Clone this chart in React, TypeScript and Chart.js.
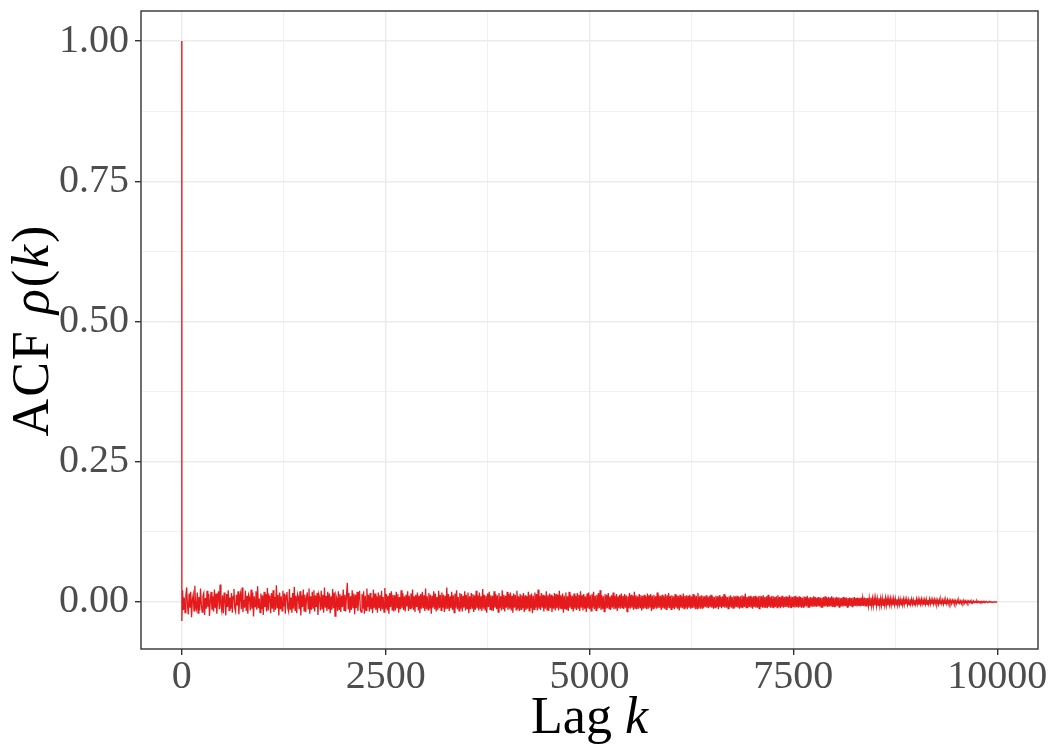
import { useEffect, useRef } from "react";
import { Chart, registerables } from "chart.js";

Chart.register(...registerables);

// Sample autocorrelation of the chain: lag 0 and lag 1, then every LAG_STEP lags up to 10000.
const LAG_STEP = 10;
const headLags = [0, 1];
const headAcf = [1.0, -0.034];
const acfBand = [
  0.021, -0.014, 0.008, -0.019, 0.012, 0.026, -0.006, -0.022, 0.015, -0.010, 0.018, -0.027, 0.004, 0.013, -0.016, 0.029, -0.008, -0.013, 0.017, -0.020,
  0.009, -0.015, 0.024, -0.004, -0.018, 0.011, 0.016, -0.023, 0.007, -0.012, 0.020, -0.009, 0.014, -0.025, 0.003, 0.018, -0.014, 0.010, -0.017, 0.022,
  -0.011, 0.015, -0.021, 0.006, 0.019, -0.013, 0.031, -0.007, -0.016, 0.012, -0.020, 0.017, 0.005, -0.024, 0.014, -0.009, 0.021, -0.015, 0.008, -0.012,
  0.016, -0.019, 0.010, 0.023, -0.011, -0.017, 0.013, -0.006, 0.019, -0.022, 0.007, 0.015, -0.013, 0.026, -0.018, 0.004, -0.010, 0.020, -0.016, 0.011,
  -0.021, 0.013, 0.008, -0.015, 0.022, -0.012, 0.017, -0.026, 0.010, -0.008, 0.019, -0.014, 0.028, -0.011, 0.006, -0.019, 0.015, -0.013, 0.012, -0.023,
  0.018, -0.009, 0.014, -0.017, 0.025, -0.015, 0.011, 0.007, -0.020, 0.016, -0.012, 0.021, -0.018, 0.009, -0.014, 0.030, -0.010, 0.013, -0.024, 0.017,
  -0.013, 0.010, -0.016, 0.020, -0.008, 0.015, -0.021, 0.012, 0.018, -0.011, -0.017, 0.023, -0.014, 0.008, -0.019, 0.016, -0.012, 0.027, -0.015, 0.011,
  -0.020, 0.014, 0.009, -0.013, 0.019, -0.024, 0.012, -0.009, 0.022, -0.016, 0.013, -0.018, 0.007, 0.017, -0.012, 0.024, -0.021, 0.010, -0.014, 0.018,
  -0.011, 0.021, -0.017, 0.012, -0.009, 0.016, -0.023, 0.014, 0.008, -0.015, 0.020, -0.012, 0.013, -0.019, 0.026, -0.010, 0.011, -0.016, 0.018, -0.013,
  0.015, -0.020, 0.010, -0.014, 0.023, -0.011, 0.017, -0.025, 0.012, 0.006, -0.016, 0.019, -0.013, 0.014, -0.018, 0.011, -0.009, 0.022, -0.015, 0.013,
  -0.017, 0.012, 0.034, -0.012, 0.016, -0.019, 0.010, -0.014, 0.021, -0.010, 0.015, -0.022, 0.013, -0.011, 0.018, -0.016, 0.009, 0.020, -0.013, -0.018,
  0.014, -0.012, 0.019, -0.021, 0.011, -0.015, 0.024, -0.009, 0.013, -0.017, 0.016, -0.013, 0.008, -0.020, 0.022, -0.011, 0.015, -0.014, 0.010, -0.019,
  0.017, -0.010, 0.012, -0.016, 0.020, -0.013, 0.009, -0.018, 0.025, -0.012, 0.014, -0.015, 0.011, -0.021, 0.016, -0.009, 0.019, -0.014, 0.013, -0.017,
  0.012, -0.015, 0.018, -0.010, 0.014, -0.019, 0.009, -0.013, 0.021, -0.011, 0.016, -0.014, 0.010, -0.017, 0.013, -0.008, 0.019, -0.016, 0.011, -0.012,
  0.015, -0.011, 0.022, -0.014, 0.010, -0.018, 0.013, -0.009, 0.017, -0.015, 0.011, -0.020, 0.014, -0.012, 0.018, -0.010, 0.012, -0.016, 0.024, -0.013,
  0.010, -0.014, 0.016, -0.012, 0.013, -0.021, 0.011, -0.010, 0.019, -0.013, 0.015, -0.017, 0.009, -0.014, 0.020, -0.011, 0.013, -0.015, 0.017, -0.010,
  0.013, -0.018, 0.011, -0.013, 0.026, -0.012, 0.014, -0.016, 0.010, -0.011, 0.018, -0.014, 0.012, -0.019, 0.015, -0.010, 0.021, -0.013, 0.009, -0.016,
  0.016, -0.012, 0.014, -0.017, 0.011, -0.010, 0.019, -0.015, 0.013, -0.012, 0.017, -0.020, 0.010, -0.013, 0.016, -0.011, 0.014, -0.018, 0.012, -0.014,
  0.020, -0.011, 0.012, -0.015, 0.017, -0.013, 0.010, -0.016, 0.023, -0.012, 0.013, -0.014, 0.011, -0.019, 0.015, -0.009, 0.018, -0.013, 0.012, -0.015,
  0.011, -0.016, 0.019, -0.010, 0.014, -0.013, 0.012, -0.018, 0.016, -0.011, 0.010, -0.015, 0.021, -0.012, 0.013, -0.017, 0.011, -0.010, 0.018, -0.014,
  0.014, -0.012, 0.017, -0.015, 0.011, -0.019, 0.015, -0.010, 0.013, -0.014, 0.020, -0.012, 0.010, -0.016, 0.014, -0.013, 0.012, -0.011, 0.016, -0.018,
  0.012, -0.014, 0.010, -0.012, 0.018, -0.016, 0.013, -0.011, 0.015, -0.020, 0.011, -0.013, 0.017, -0.010, 0.014, -0.015, 0.022, -0.012, 0.011, -0.014,
  0.016, -0.010, 0.013, -0.017, 0.011, -0.012, 0.019, -0.014, 0.012, -0.016, 0.015, -0.011, 0.013, -0.018, 0.010, -0.012, 0.016, -0.015, 0.014, -0.011,
  0.013, -0.015, 0.020, -0.011, 0.012, -0.013, 0.015, -0.019, 0.011, -0.012, 0.017, -0.014, 0.010, -0.016, 0.018, -0.010, 0.013, -0.013, 0.011, -0.017,
  0.015, -0.012, 0.011, -0.014, 0.016, -0.011, 0.013, -0.016, 0.019, -0.010, 0.012, -0.015, 0.014, -0.012, 0.010, -0.018, 0.015, -0.011, 0.017, -0.013,
  0.012, -0.016, 0.014, -0.010, 0.018, -0.013, 0.011, -0.015, 0.013, -0.012, 0.016, -0.011, 0.021, -0.014, 0.012, -0.013, 0.010, -0.017, 0.014, -0.012,
  0.013, -0.011, 0.016, -0.012, 0.010, -0.014, 0.012, -0.010, 0.017, -0.013, 0.011, -0.012, 0.014, -0.016, 0.010, -0.011, 0.013, -0.012, 0.015, -0.010,
  0.011, -0.013, 0.014, -0.010, 0.012, -0.017, 0.010, -0.011, 0.016, -0.012, 0.013, -0.010, 0.011, -0.014, 0.018, -0.011, 0.012, -0.013, 0.010, -0.012,
  0.014, -0.010, 0.012, -0.015, 0.011, -0.012, 0.013, -0.011, 0.010, -0.013, 0.015, -0.012, 0.012, -0.010, 0.014, -0.016, 0.011, -0.012, 0.013, -0.010,
  0.010, -0.012, 0.017, -0.011, 0.012, -0.010, 0.011, -0.014, 0.013, -0.011, 0.010, -0.012, 0.014, -0.013, 0.012, -0.010, 0.016, -0.011, 0.011, -0.013,
  0.012, -0.011, 0.010, -0.013, 0.014, -0.010, 0.012, -0.012, 0.011, -0.015, 0.013, -0.010, 0.010, -0.011, 0.015, -0.012, 0.011, -0.010, 0.012, -0.013,
  0.011, -0.010, 0.013, -0.012, 0.010, -0.011, 0.014, -0.010, 0.012, -0.013, 0.011, -0.012, 0.016, -0.010, 0.010, -0.012, 0.012, -0.011, 0.011, -0.010,
  0.010, -0.009, 0.012, -0.010, 0.009, -0.011, 0.011, -0.009, 0.013, -0.010, 0.010, -0.012, 0.009, -0.010, 0.011, -0.009, 0.010, -0.013, 0.012, -0.009,
  0.009, -0.011, 0.010, -0.009, 0.014, -0.010, 0.011, -0.010, 0.009, -0.012, 0.010, -0.009, 0.012, -0.010, 0.009, -0.011, 0.011, -0.010, 0.010, -0.009,
  0.011, -0.010, 0.009, -0.012, 0.010, -0.009, 0.012, -0.011, 0.010, -0.009, 0.015, -0.010, 0.009, -0.011, 0.010, -0.009, 0.011, -0.010, 0.009, -0.012,
  0.010, -0.009, 0.011, -0.010, 0.009, -0.010, 0.010, -0.012, 0.011, -0.009, 0.010, -0.010, 0.012, -0.009, 0.009, -0.010, 0.010, -0.011, 0.013, -0.009,
  0.009, -0.010, 0.010, -0.009, 0.011, -0.011, 0.009, -0.009, 0.010, -0.010, 0.012, -0.009, 0.009, -0.011, 0.010, -0.009, 0.011, -0.010, 0.009, -0.009,
  0.010, -0.009, 0.009, -0.010, 0.012, -0.009, 0.010, -0.011, 0.009, -0.009, 0.010, -0.010, 0.011, -0.009, 0.009, -0.010, 0.010, -0.009, 0.009, -0.010,
  0.008, -0.009, 0.010, -0.008, 0.009, -0.008, 0.011, -0.009, 0.008, -0.010, 0.009, -0.008, 0.008, -0.009, 0.010, -0.008, 0.009, -0.009, 0.008, -0.008,
  0.009, -0.008, 0.008, -0.009, 0.008, -0.010, 0.009, -0.008, 0.010, -0.008, 0.008, -0.009, 0.009, -0.008, 0.008, -0.008, 0.010, -0.009, 0.008, -0.008,
  0.008, -0.008, 0.009, -0.007, 0.008, -0.009, 0.008, -0.008, 0.007, -0.008, 0.009, -0.008, 0.008, -0.007, 0.008, -0.009, 0.007, -0.008, 0.008, -0.007,
  0.007, -0.008, 0.008, -0.007, 0.009, -0.007, 0.007, -0.008, 0.008, -0.007, 0.007, -0.008, 0.008, -0.007, 0.007, -0.007, 0.008, -0.007, 0.007, -0.008,
  0.007, -0.007, 0.007, -0.006, 0.008, -0.007, 0.006, -0.007, 0.007, -0.006, 0.007, -0.007, 0.006, -0.006, 0.007, -0.007, 0.006, -0.006, 0.007, -0.006,
  0.006, -0.006, 0.007, -0.006, 0.006, -0.006, 0.006, -0.005, 0.006, -0.006, 0.005, -0.006, 0.006, -0.005, 0.006, -0.005, 0.005, -0.006, 0.005, -0.005,
  0.005, -0.005, 0.006, -0.005, 0.005, -0.005, 0.005, -0.004, 0.005, -0.005, 0.004, -0.005, 0.005, -0.004, 0.005, -0.004, 0.004, -0.005, 0.004, -0.004,
  0.005, -0.004, 0.005, -0.005, 0.004, -0.004, 0.005, -0.004, 0.004, -0.005, 0.004, -0.004, 0.005, -0.004, 0.004, -0.004, 0.005, -0.004, 0.004, -0.004,
  0.004, -0.004, 0.004, -0.003, 0.004, -0.004, 0.003, -0.004, 0.004, -0.003, 0.004, -0.003, 0.003, -0.004, 0.004, -0.003, 0.003, -0.003, 0.004, -0.003,
  0.003, -0.003, 0.003, -0.003, 0.003, -0.002, 0.003, -0.003, 0.002, -0.003, 0.003, -0.002, 0.003, -0.002, 0.002, -0.003, 0.002, -0.002, 0.003, -0.002,
  0.002, -0.002, 0.002, -0.002, 0.002, -0.001, 0.002, -0.002, 0.001, -0.002, 0.002, -0.001, 0.001, -0.001, 0.002, -0.001, 0.001, -0.001, 0.001, -0.001,
  0.001, -0.001, 0.001, -0.001, 0.001, 0.000, 0.001, -0.001, 0.000, 0.000, 0.001, 0.000, 0.000, -0.001, 0.000, 0.000, 0.000, 0.000, 0.000, 0.000,
];

// Labelled (major) ticks and the unlabelled minor grid positions between them.
const xTicks = [0, 2500, 5000, 7500, 10000];
const xMinor = [1250, 3750, 6250, 8750];
const yTicks = [0, 0.25, 0.5, 0.75, 1.0];
const yMinor = [0.125, 0.375, 0.625, 0.875];

const SERIF = '"Liberation Serif", "DejaVu Serif", serif';
const LINE_RED = "#E41A1C";
const GRID = "#EBEBEB";
const FRAME = "#333333";
const TICK_TEXT = "#4D4D4D";
const TITLE_SIZE = 52;

const isMajor = (ticks: number[], v: number) => ticks.some((t) => Math.abs(t - v) < 1e-9);
const tickList = (major: number[], minor: number[]) =>
  [...major, ...minor].sort((a, b) => a - b).map((value) => ({ value }));

type Run = [string, boolean];

function drawRuns(ctx: CanvasRenderingContext2D, runs: Run[], cx: number, baseline: number, size: number) {
  const fontFor = (italic: boolean) => `${italic ? "italic " : ""}${size}px ${SERIF}`;
  const widths = runs.map(([t, it]) => {
    ctx.font = fontFor(it);
    return ctx.measureText(t).width;
  });
  const total = widths.reduce((a, b) => a + b, 0);
  let x = cx - total / 2;
  ctx.textAlign = "left";
  ctx.textBaseline = "alphabetic";
  runs.forEach(([t, it], i) => {
    ctx.font = fontFor(it);
    ctx.fillText(t, x, baseline);
    x += widths[i];
  });
}

// Full panel border plus the axis titles with italic math symbols.
const panelDecor = {
  id: "panelDecor",
  afterDatasetsDraw(chart: any) {
    const { ctx, chartArea: a } = chart;
    ctx.save();
    ctx.strokeStyle = FRAME;
    ctx.lineWidth = 1.4;
    ctx.strokeRect(a.left, a.top, a.right - a.left, a.bottom - a.top);
    ctx.restore();
  },
  afterDraw(chart: any) {
    const { ctx, chartArea: a } = chart;
    ctx.save();
    ctx.fillStyle = "#000000";
    drawRuns(ctx, [["Lag ", false], ["k", true]], (a.left + a.right) / 2, 733, TITLE_SIZE);
    ctx.translate(48, (a.top + a.bottom) / 2);
    ctx.rotate(-Math.PI / 2);
    (ctx as any).letterSpacing = "2px";
    drawRuns(
      ctx,
      [["ACF ", false], ["ρ", true], ["(", false], ["k", true], [")", false]],
      0,
      0,
      TITLE_SIZE
    );
    ctx.restore();
  },
};

export default function App() {
  const canvasRef = useRef<HTMLCanvasElement | null>(null);

  useEffect(() => {
    document.body.style.margin = "0";
    const canvas = canvasRef.current;
    if (!canvas) return;

    const points = [
      ...headLags.map((k, i) => ({ x: k, y: headAcf[i] })),
      ...acfBand.map((v, i) => ({ x: (i + 1) * LAG_STEP, y: v })),
    ];

    const chart = new Chart(canvas, {
      type: "line",
      data: {
        datasets: [
          {
            data: points,
            borderColor: LINE_RED,
            borderWidth: 1.3,
            pointRadius: 0,
            tension: 0,
            fill: false,
          },
        ],
      },
      options: {
        animation: false,
        responsive: false,
        devicePixelRatio: 1,
        layout: { padding: { top: 11, right: 12, left: 0, bottom: 0 } },
        plugins: { legend: { display: false }, tooltip: { enabled: false } },
        scales: {
          x: {
            type: "linear",
            min: -500,
            max: 10500,
            afterBuildTicks: (s: any) => {
              s.ticks = tickList(xTicks, xMinor);
            },
            afterFit: (s: any) => {
              s.height = 101;
              s.paddingLeft = 0;
              s.paddingRight = 0;
            },
            border: { display: false },
            grid: {
              color: GRID,
              lineWidth: (c: any) => (c.tick && isMajor(xTicks, c.tick.value) ? 1.4 : 0.7),
              tickColor: (c: any) => (c.tick && isMajor(xTicks, c.tick.value) ? FRAME : "rgba(0,0,0,0)"),
              tickWidth: 1.4,
              tickLength: 6,
              drawTicks: true,
            },
            ticks: {
              autoSkip: false,
              maxRotation: 0,
              minRotation: 0,
              padding: 2,
              color: TICK_TEXT,
              font: { family: SERIF, size: 40, lineHeight: 1 },
              callback: (v: any) => (isMajor(xTicks, Number(v)) ? String(Math.round(Number(v))) : ""),
            },
          },
          y: {
            type: "linear",
            min: -0.0838,
            max: 1.0535,
            afterBuildTicks: (s: any) => {
              s.ticks = tickList(yTicks, yMinor);
            },
            afterFit: (s: any) => {
              s.width = 141;
              s.paddingTop = 0;
              s.paddingBottom = 0;
            },
            border: { display: false },
            grid: {
              color: GRID,
              lineWidth: (c: any) => (c.tick && isMajor(yTicks, c.tick.value) ? 1.4 : 0.7),
              tickColor: (c: any) => (c.tick && isMajor(yTicks, c.tick.value) ? FRAME : "rgba(0,0,0,0)"),
              tickWidth: 1.4,
              tickLength: 6,
              drawTicks: true,
            },
            ticks: {
              autoSkip: false,
              padding: 6,
              color: TICK_TEXT,
              font: { family: SERIF, size: 40, lineHeight: 1 },
              callback: (v: any) => (isMajor(yTicks, Number(v)) ? Number(v).toFixed(2) : ""),
            },
          },
        },
      },
      plugins: [panelDecor],
    });

    return () => chart.destroy();
  }, []);

  return (
    <div style={{ position: "absolute", left: 0, top: 0, width: 1050, height: 750 }}>
      <canvas ref={canvasRef} width={1050} height={750} style={{ display: "block" }} />
    </div>
  );
}
